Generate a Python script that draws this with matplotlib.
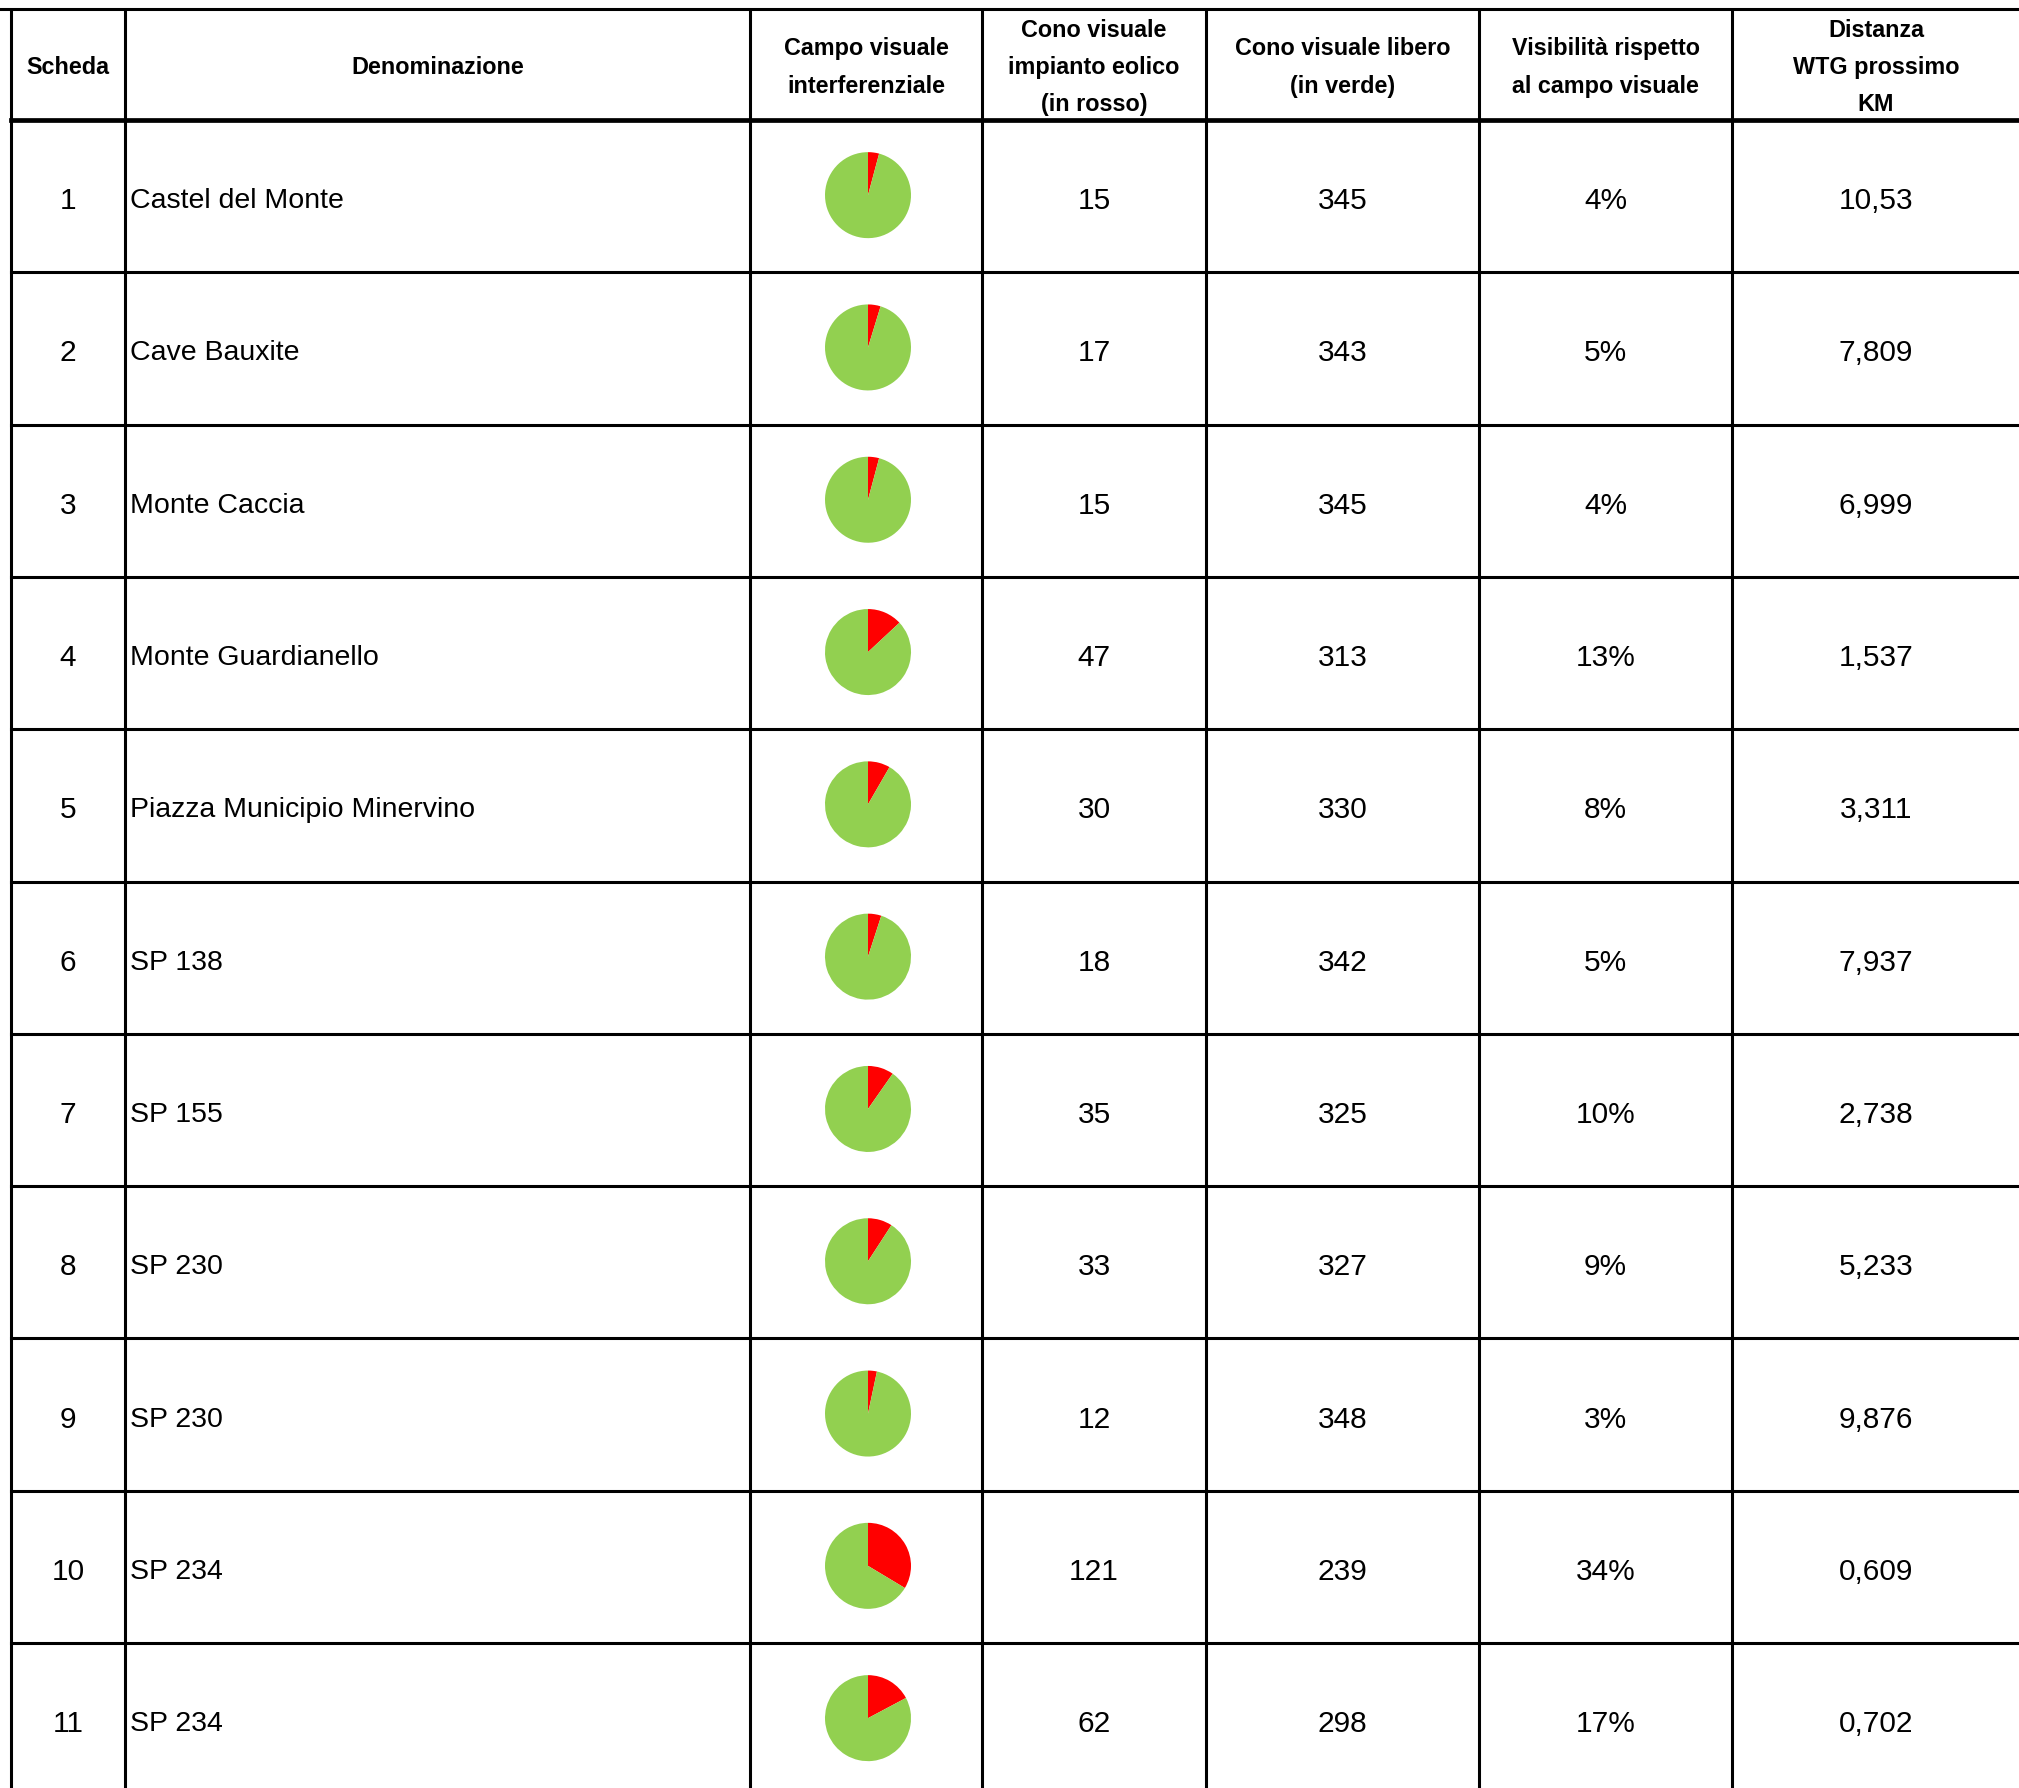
import matplotlib
matplotlib.use("Agg")
import matplotlib.pyplot as plt

# table data
scheda = ["1", "2", "3", "4", "5", "6", "7", "8", "9", "10", "11"]
nomi = ["Castel del Monte", "Cave Bauxite", "Monte Caccia", "Monte Guardianello",
        "Piazza Municipio Minervino", "SP 138", "SP 155", "SP 230", "SP 230",
        "SP 234", "SP 234"]
cono_rosso = [15, 17, 15, 47, 30, 18, 35, 33, 12, 121, 62]
cono_verde = [345, 343, 345, 313, 330, 342, 325, 327, 348, 239, 298]
visibilita = ["4%", "5%", "4%", "13%", "8%", "5%", "10%", "9%", "3%", "34%", "17%"]
distanza = ["10,53", "7,809", "6,999", "1,537", "3,311", "7,937", "2,738",
            "5,233", "9,876", "0,609", "0,702"]
headers = ["Scheda", "Denominazione", "Campo visuale\ninterferenziale",
           "Cono visuale\nimpianto eolico\n(in rosso)", "Cono visuale libero\n(in verde)",
           "Visibilità rispetto\nal campo visuale", "Distanza\nWTG prossimo\nKM"]

W, H = 2019, 1788
fig = plt.figure(figsize=(W / 100, H / 100), dpi=100)
ax = fig.add_axes([0, 0, 1, 1])
ax.set_xlim(0, W)
ax.set_ylim(H, 0)
ax.axis('off')

# grid geometry (pixels)
cols = [11, 125, 750, 982, 1206, 1479, 1732, 2030]
top = 9
head_bot = 120
row_h = 152.3
n = len(nomi)
rows = [head_bot + i * row_h for i in range(n + 1)]

lw = 2.2
for x in cols[:-1]:
    ax.plot([x, x], [top, H + 5], color='black', lw=lw, solid_capstyle='butt')
ax.plot([0, W], [top, top], color='black', lw=lw)
ax.plot([cols[0], W], [head_bot, head_bot], color='black', lw=3.4)
for y in rows[1:]:
    ax.plot([cols[0], W], [y, y], color='black', lw=lw)

hfont = dict(family=['Liberation Sans', 'DejaVu Sans'], weight='bold', size=16.8)
nfont = dict(family=['Liberation Sans', 'DejaVu Sans'], size=20.5)
bfont = dict(family=['Liberation Sans', 'DejaVu Sans'], size=21.5)

for j, h in enumerate(headers):
    cx = (cols[j] + cols[j + 1]) / 2 if j < 6 else 1876
    ax.text(cx, (top + head_bot) / 2 + 3, h, ha='center', va='center',
            linespacing=1.8, **hfont)

for i in range(n):
    cy = (rows[i] + rows[i + 1]) / 2 + 5
    ax.text((cols[0] + cols[1]) / 2, cy, scheda[i], ha='center', va='center', **bfont)
    ax.text(cols[1] + 5, cy, nomi[i], ha='left', va='center', **nfont)
    ax.text((cols[3] + cols[4]) / 2, cy, str(cono_rosso[i]), ha='center', va='center', **bfont)
    ax.text((cols[4] + cols[5]) / 2, cy, str(cono_verde[i]), ha='center', va='center', **bfont)
    ax.text((cols[5] + cols[6]) / 2, cy, visibilita[i], ha='center', va='center', **bfont)
    ax.text(1876, cy, distanza[i], ha='center', va='center', **bfont)

    # pie chart in the "Campo visuale" column
    r = 43
    size = 2.5 * r
    px = (cols[2] + cols[3]) / 2 + 2
    py = (rows[i] + rows[i + 1]) / 2 - 1
    pax = fig.add_axes([(px - size / 2) / W, 1 - (py + size / 2) / H, size / W, size / H])
    pax.pie([cono_rosso[i], cono_verde[i]], colors=['#FF0000', '#92D050'],
            startangle=90, counterclock=False)
    pax.set_aspect('equal')

fig.savefig('out.png', dpi=100, facecolor='white')
